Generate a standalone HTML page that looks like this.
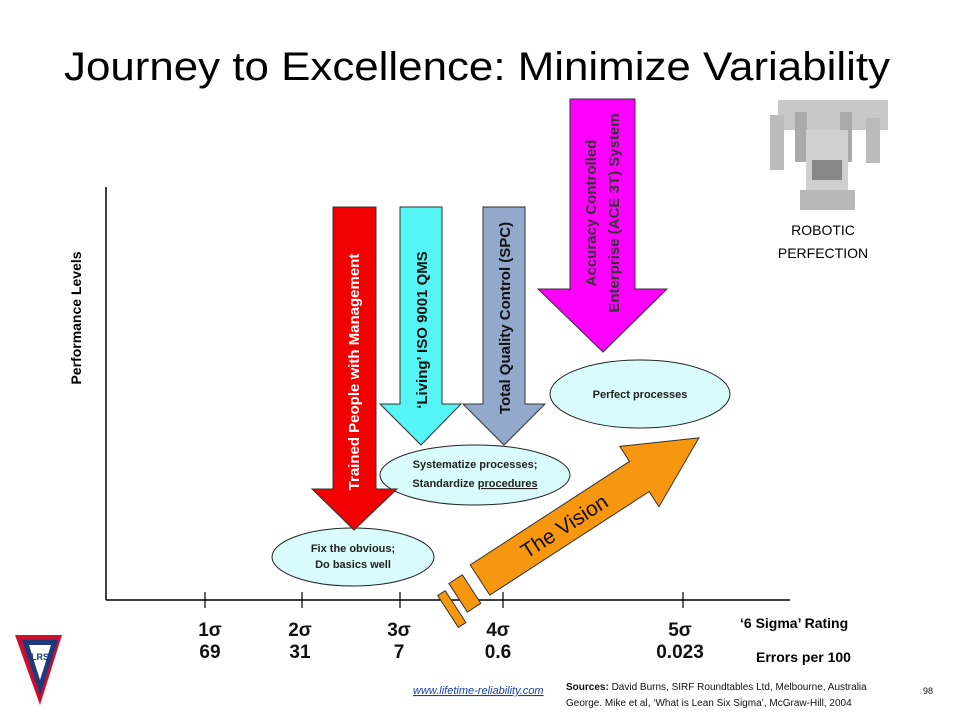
<!DOCTYPE html>
<html><head><meta charset="utf-8"><style>
body{margin:0;background:#fff}
svg{display:block}
text{font-family:"Liberation Sans",sans-serif}
</style></head><body>
<svg width="960" height="720" viewBox="0 0 960 720" xmlns="http://www.w3.org/2000/svg">
<rect width="960" height="720" fill="#fff"/>
<text x="477" y="80" font-size="40" text-anchor="middle" textLength="826" lengthAdjust="spacingAndGlyphs" fill="#000">Journey to Excellence: Minimize Variability</text>

<!-- axes -->
<line x1="106" y1="187" x2="106" y2="600" stroke="#000" stroke-width="1.5"/>
<line x1="106" y1="600" x2="790" y2="600" stroke="#000" stroke-width="1.5"/>
<g stroke="#000" stroke-width="1.2">
<line x1="205" y1="592" x2="205" y2="608"/><line x1="302" y1="592" x2="302" y2="608"/>
<line x1="400" y1="592" x2="400" y2="608"/><line x1="503" y1="592" x2="503" y2="608"/>
<line x1="683" y1="592" x2="683" y2="608"/></g>
<text transform="translate(81,318) rotate(-90)" font-size="14" font-weight="bold" text-anchor="middle">Performance Levels</text>

<!-- ellipses -->
<g fill="#d9fbfb" stroke="#222" stroke-width="1">
<ellipse cx="640" cy="394" rx="90" ry="34"/>
<ellipse cx="475" cy="475" rx="95" ry="30"/>
<ellipse cx="353" cy="557" rx="81" ry="29"/>
</g>
<g font-size="11" font-weight="bold" fill="#222" text-anchor="middle">
<text x="640" y="398">Perfect processes</text>
<text x="475" y="468">Systematize processes;</text>
<text x="475" y="487">Standardize <tspan text-decoration="underline">procedures</tspan></text>
<text x="353" y="552">Fix the obvious;</text>
<text x="353" y="568">Do basics  well</text>
</g>

<!-- down arrows -->
<polygon points="333,207 376,207 376,489 397,489 354,530 312,489 333,489" fill="#f00000" stroke="#333" stroke-width="1"/>
<polygon points="400,207 442,207 442,404 461,404 421,445 380,404 400,404" fill="#55f5f5" stroke="#333" stroke-width="1"/>
<polygon points="483,207 525,207 525,404 545,404 504,445 463,404 483,404" fill="#93a9cc" stroke="#333" stroke-width="1"/>
<polygon points="570,99 635,99 635,289 667,289 603,352 538,289 570,289" fill="#ff00ff" stroke="#333" stroke-width="1"/>
<g font-size="15" font-weight="bold" text-anchor="middle">
<text transform="translate(359,372) rotate(-90)" fill="#fff">Trained People with Management</text>
<text transform="translate(427,330) rotate(-90)" fill="#111">‘Living’ ISO 9001 QMS</text>
<text transform="translate(510,318) rotate(-90)" fill="#111">Total Quality Control  (SPC)</text>
<text transform="translate(596,213) rotate(-90)" fill="#333">Accuracy Controlled</text>
<text transform="translate(619,213) rotate(-90)" fill="#333">Enterprise (ACE 3T) System</text>
</g>

<!-- vision arrow -->
<g transform="translate(480,580) rotate(-33)" fill="#f7960f" stroke="#333" stroke-width="1">
<polygon points="0,-18 190,-18 190,-36 261,0 190,36 190,18 0,18"/>
<rect x="-28" y="-14" width="16" height="34"/>
<rect x="-44" y="-10" width="9" height="38"/>
<text x="100" y="8" font-size="21" fill="#111" stroke="none" text-anchor="middle">The Vision</text>
</g>

<!-- robot -->
<g>
<rect x="778" y="100" width="110" height="30" fill="#c8c8c8"/>
<rect x="770" y="115" width="14" height="55" fill="#bbb"/>
<rect x="795" y="112" width="12" height="50" fill="#aaa"/>
<rect x="840" y="112" width="12" height="50" fill="#aaa"/>
<rect x="866" y="118" width="14" height="45" fill="#bbb"/>
<rect x="806" y="130" width="42" height="80" fill="#d0d0d0"/>
<rect x="800" y="190" width="55" height="20" fill="#b8b8b8"/>
<rect x="812" y="160" width="30" height="20" fill="#888"/>
</g>
<text x="823" y="235" font-size="14" text-anchor="middle">ROBOTIC</text>
<text x="823" y="258" font-size="14" text-anchor="middle">PERFECTION</text>

<!-- sigma labels -->
<g font-size="19" font-weight="bold" text-anchor="middle" fill="#111">
<text x="210" y="636">1σ</text><text x="210" y="658">69</text>
<text x="300" y="636">2σ</text><text x="300" y="658">31</text>
<text x="399" y="636">3σ</text><text x="399" y="658">7</text>
<text x="498" y="636">4σ</text><text x="498" y="658">0.6</text>
<text x="680" y="636">5σ</text><text x="680" y="658">0.023</text>
</g>
<text x="740" y="628" font-size="14" font-weight="bold">‘6 Sigma’ Rating</text>
<text x="756" y="662" font-size="14" font-weight="bold">Errors per 100</text>

<!-- logo -->
<polygon points="15,635 62,635 40,705" fill="#c8102e"/>
<polygon points="22,640 58,640 40,695" fill="#1f3a7a"/>
<polygon points="29,645 51,645 40,680" fill="#fff"/>
<text x="40" y="660" font-size="9" font-weight="bold" fill="#1f3a7a" text-anchor="middle">LRS</text>

<!-- footer -->
<text x="413" y="694" font-size="11" font-style="italic" fill="#1a3fa0" text-decoration="underline">www.lifetime-reliability.com</text>
<text x="566" y="690" font-size="10" fill="#111"><tspan font-weight="bold">Sources:</tspan> David Burns, SIRF Roundtables Ltd,  Melbourne, Australia</text>
<text x="923" y="694" font-size="9" fill="#111">98</text>
<text x="566" y="706" font-size="10" fill="#111">George.  Mike et al, ‘What is Lean Six Sigma’, McGraw-Hill, 2004</text>
</svg>
</body></html>
